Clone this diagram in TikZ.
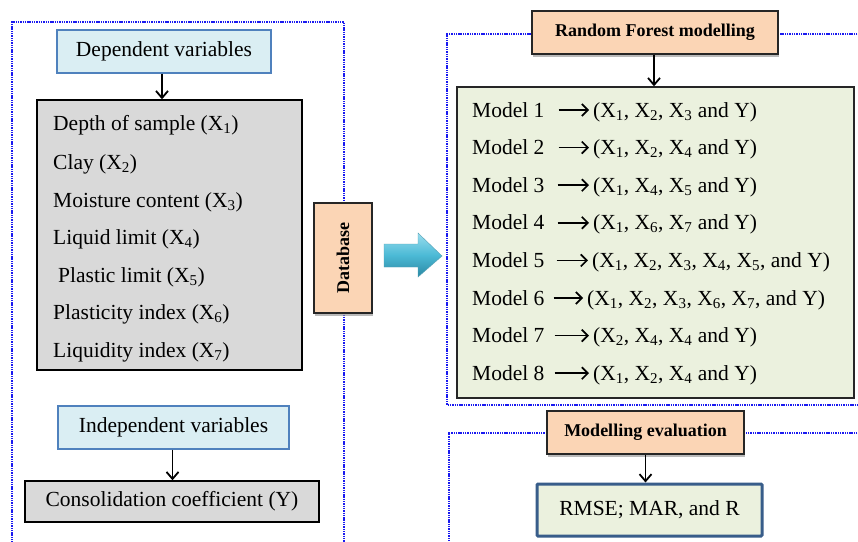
\documentclass[tikz,border=0pt]{standalone}
\usepackage{fontspec}
\setmainfont{Liberation Serif}
\usetikzlibrary{arrows.meta,shadows}
\definecolor{frameblue}{HTML}{1A1AF0}
\definecolor{lightblue}{HTML}{DAEEF3}
\definecolor{boxblue}{HTML}{4F81BD}
\definecolor{peach}{HTML}{FBD5B5}
\definecolor{greybox}{HTML}{D9D9D9}
\definecolor{greenbox}{HTML}{EBF1DE}
\definecolor{rmseblue}{HTML}{385D8A}
\definecolor{arrowtop}{HTML}{9ADDEE}
\definecolor{arrowmid}{HTML}{4CBAD6}
\definecolor{arrowbot}{HTML}{2A88A3}
\newcommand{\Xs}[1]{X\textsubscript{#1}}
\tikzset{
  bigfont/.style={font=\fontsize{21.5}{25}\selectfont},
  hdr/.style={draw=boxblue, line width=1.3pt, fill=lightblue, minimum height=43pt, inner sep=0pt, bigfont},
  peachbox/.style={draw=black!85, line width=1.3pt, fill=peach, inner sep=0pt,
    font=\bfseries\fontsize{18}{22}\selectfont,
    drop shadow={shadow xshift=1pt, shadow yshift=-3pt, fill=black!45, opacity=0.6}},
  txt/.style={anchor=base west, inner sep=0pt, bigfont},
  arr/.style={-{Straight Barb[length=7pt,width=12pt]}, line width=1.8pt},
  marrow/.style={-{Straight Barb[length=6pt,width=12pt]}, line width=1.7pt},
  dotframe/.style={frameblue, line width=2pt, dash pattern=on 1.4pt off 0.9pt},
}
\begin{document}
\begin{tikzpicture}[x=1pt,y=-1pt]
\clip (0,0) rectangle (858,541);
\fill[white] (0,0) rectangle (858,541);
% dotted frames
\draw[dotframe] (12,545) -- (12,22) -- (344,22) -- (344,545);
\draw[dotframe] (862,34) -- (447,34) -- (447,405) -- (862,405);
\draw[dotframe] (862,433) -- (449,433) -- (449,545);
% left column
\node[hdr, minimum width=214pt] (dep) at (164,51.5) {Dependent variables};
\node[draw=black, line width=1.4pt, fill=greybox, minimum width=265pt, minimum height=270pt, inner sep=0pt] (vars) at (169.5,235) {};
\node[txt] (v1) at (53,130) {Depth of sample (\Xs{1})};
\node[txt] (v2) at (53,169) {Clay (\Xs{2})};
\node[txt] (v3) at (53,207) {Moisture content (\Xs{3})};
\node[txt] (v4) at (53,244) {Liquid limit (\Xs{4})};
\node[txt] (v5) at (58,282) {Plastic limit (\Xs{5})};
\node[txt] (v6) at (53,319) {Plasticity index (\Xs{6})};
\node[txt] (v7) at (53,357) {Liquidity index (\Xs{7})};
\node[hdr, minimum width=231pt] (ind) at (173.5,427.5) {Independent variables};
\node[draw=black, line width=1.4pt, fill=greybox, minimum width=294pt, minimum height=41pt, inner sep=0pt, bigfont] (cons) at (172,501.5) {Consolidation coefficient (Y)};
\draw[arr] ([xshift=-2pt]dep.south) -- ([xshift=-2pt]dep.south |- vars.north);
\draw[arr] ([xshift=-1pt]ind.south) -- ([xshift=-1pt]ind.south |- cons.north);
% database and big arrow
\node[peachbox, rotate=90, minimum width=110pt, minimum height=58pt] (db) at (343,258) {Database};
\shade[top color=arrowtop, bottom color=arrowbot, middle color=arrowmid, draw=arrowbot!80, line width=0.4pt]
  (384,244) -- (418,244) -- (418,233) -- (442,256) -- (418,277) -- (418,267) -- (384,267) -- cycle;
% right column
\node[peachbox, minimum width=246pt, minimum height=43pt] (rf) at (655,32.5) {Random Forest modelling};
\node[draw=black!85, line width=1.4pt, fill=greenbox, minimum width=397pt, minimum height=311pt, inner sep=0pt] (models) at (655.5,242.5) {};
\draw[arr] ([xshift=-1pt]rf.south) -- ([xshift=-1pt]rf.south |- models.north);
% model lines: label, tuple, arrow between them
\foreach \i/\y/\tx/\tup/\sa in {
  1/117/593/{(\Xs{1}, \Xs{2}, \Xs{3} and Y)}/14,
  2/154.6/593/{(\Xs{1}, \Xs{2}, \Xs{4} and Y)}/14,
  3/192.2/593/{(\Xs{1}, \Xs{4}, \Xs{5} and Y)}/13,
  4/229.8/593/{(\Xs{1}, \Xs{6}, \Xs{7} and Y)}/13,
  5/267.4/592/{(\Xs{1}, \Xs{2}, \Xs{3}, \Xs{4}, \Xs{5}, and Y)}/12,
  6/305/587/{(\Xs{1}, \Xs{2}, \Xs{3}, \Xs{6}, \Xs{7}, and Y)}/9,
  7/342.6/593/{(\Xs{2}, \Xs{4}, \Xs{4} and Y)}/10,
  8/380.2/593/{(\Xs{1}, \Xs{2}, \Xs{4} and Y)}/10}{
  \node[txt] (ml\i) at (472,\y) {Model \i};
  \node[txt] (mt\i) at (\tx,\y) {\tup};
  \draw[marrow] ([xshift=\sa pt,yshift=7pt]ml\i.base east) -- ([xshift=-4pt,yshift=7pt]mt\i.base west);
}
\node[peachbox, minimum width=197pt, minimum height=43pt] (me) at (645.5,432.5) {Modelling evaluation};
\node[draw=rmseblue, line width=3pt, fill=greenbox, rounded corners=1pt, minimum width=225pt, minimum height=52pt, inner sep=0pt, bigfont] (rmse) at (649.5,510) {RMSE; MAR, and R};
\draw[arr] (me.south) -- (me.south |- rmse.north);
\end{tikzpicture}
\end{document}
